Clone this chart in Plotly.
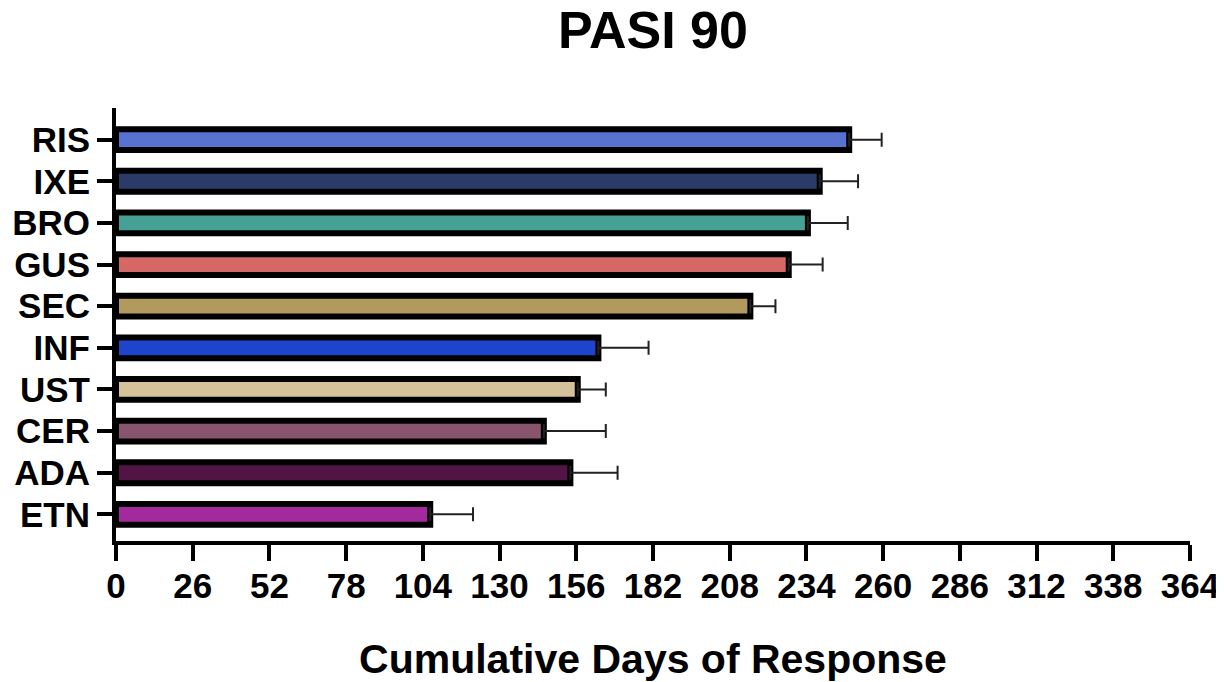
import plotly.graph_objects as go

drugs = ["RIS", "IXE", "BRO", "GUS", "SEC", "INF", "UST", "CER", "ADA", "ETN"]
mean_days = [248.5, 238.5, 234.5, 228.0, 215.0, 163.5, 156.5, 145.0, 154.0, 106.5]
error_days = [11.0, 13.0, 13.5, 11.5, 8.5, 17.0, 9.5, 21.0, 16.0, 14.5]
bar_colors = ["#5872d2", "#2a3b68", "#47a095", "#d56865", "#b29a5f",
              "#1e44cc", "#d5c29b", "#88546e", "#521345", "#a32a9c"]
x_ticks = list(range(0, 365, 26))

FONT = "Liberation Sans, Arial, sans-serif"
# the page body has a default 8px margin, so the figure is sized to fit the window
W, H = 1216, 674

fig = go.Figure()
fig.add_trace(go.Bar(
    y=drugs,
    x=mean_days,
    orientation="h",
    width=0.5,
    marker=dict(color=bar_colors, line=dict(color="black", width=6)),
    error_x=dict(type="data", array=error_days, symmetric=False,
                 arrayminus=[0] * len(error_days),
                 color="#222222", thickness=2, width=7),
    showlegend=False,
))

fig.update_layout(
    width=W, height=H,
    paper_bgcolor="white", plot_bgcolor="white",
    margin=dict(l=108, r=34, t=100, b=141),
    title=dict(text="PASI 90", x=0.5, xref="paper", xanchor="center",
               y=1, yref="container", yanchor="top", pad=dict(t=4),
               font=dict(family=FONT, size=52, color="black", weight="bold")),
    font=dict(family=FONT, color="black"),
)

fig.update_xaxes(
    range=[0, 364], tickvals=x_ticks, ticktext=[str(v) for v in x_ticks],
    automargin=False,
    showline=True, linecolor="black", linewidth=4,
    ticks="outside", ticklen=16, tickwidth=4, tickcolor="black",
    ticklabelstandoff=-5,
    tickfont=dict(family=FONT, size=35, color="black", weight="bold"),
    showgrid=False, zeroline=False,
    title=dict(text="Cumulative Days of Response", standoff=45,
               font=dict(family=FONT, size=41, color="black", weight="bold")),
)

fig.update_yaxes(
    type="category", categoryorder="array", categoryarray=drugs,
    tickmode="array", tickvals=drugs, ticktext=drugs,
    range=[9.64, -0.76],
    automargin=False,
    showline=True, linecolor="black", linewidth=4,
    ticks="outside", ticklen=15, tickwidth=4, tickcolor="black",
    ticklabelstandoff=0,
    tickfont=dict(family=FONT, size=35, color="black", weight="bold"),
    showgrid=False, zeroline=False,
)

fig.write_html("out.html")
